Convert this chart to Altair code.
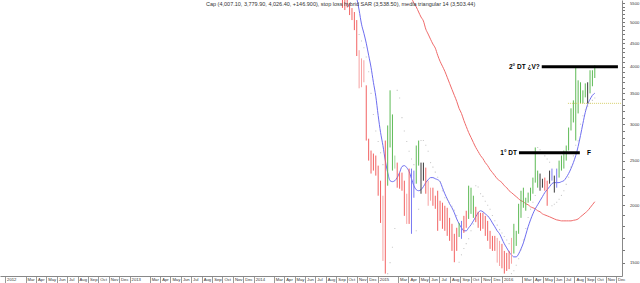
import altair as alt
import pandas as pd

# ---- data (weekly bars) ----
first_week = "2014-09-19"
highs = [5730, 5670, 5590, 5500, 5365, 5260, 5052, 4345, 4170, 4132,
         3644, 2790, 2629, 2590, 2564, 2438, 2261, 2097, 2764, 2981,
         3554, 3150, 2564, 2475, 2354, 2354, 2261, 2118, 2402, 2402,
         2378, 2696, 2764, 2475, 2475, 2414, 2261, 2183, 2183, 2097,
         2150, 2045, 2025, 1994, 1974, 1877, 1822, 1733, 1786, 1830,
         1849, 1896, 1945, 2205, 2183, 2097, 1984, 1935, 1925, 1925,
         1896, 1849, 1759, 1715, 1715, 1698, 1673, 1648, 1591, 1575,
         1591, 1698, 1822, 1759, 2014, 2150, 2183, 2076, 2130, 2183,
         2296, 2670, 2378, 2343, 2283, 2296, 2261, 2378, 2402, 2319,
         2402, 2500, 2564, 2629, 2696, 2950, 3248, 3380, 3990, 3737,
         3700, 3554, 3680, 3700, 3930, 3930, 4026]
lows = [5370, 5312, 5380, 5180, 5052, 4804, 4220, 3590, 3610, 3700,
        2764, 2500, 2343, 2378, 2319, 2097, 1830, 1513, 1420, 2205,
        2670, 2378, 2402, 2183, 2172, 2150, 1896, 1821, 1821, 1733,
        2076, 2227, 2438, 2118, 2261, 2118, 1994, 2045, 1994, 1964,
        1759, 1849, 1777, 1759, 1715, 1673, 1591, 1503, 1591, 1706,
        1690, 1741, 1786, 1867, 1915, 1877, 1837, 1786, 1759, 1777,
        1715, 1673, 1607, 1591, 1591, 1500, 1475, 1458, 1420, 1439,
        1452, 1492, 1570, 1631, 1733, 1877, 1974, 1945, 2025, 2045,
        2118, 2239, 2183, 2150, 2183, 2150, 1994, 2227, 2261, 2130,
        2183, 2296, 2378, 2402, 2500, 2629, 2907, 3026, 2764, 3166,
        3330, 3330, 3431, 3330, 3500, 3627, 3780]
kinds = ["r", "r", "r", "r", "r", "r", "r", "p", "p", "p",
         "r", "r", "r", "r", "r", "r", "r", "p", "r", "g",
         "g", "g", "lg", "r", "r", "r", "r", "p", "r", "b",
         "b", "g", "g", "k", "k", "r", "p", "p", "r", "r",
         "r", "r", "r", "r", "r", "r", "r", "r", "r", "g",
         "b", "r", "r", "g", "g", "g", "r", "r", "r", "r",
         "r", "r", "r", "r", "r", "p", "p", "r", "r", "r",
         "r", "p", "g", "g", "g", "g", "g", "g", "g", "g",
         "g", "g", "g", "k", "k", "r", "r", "k", "b", "k",
         "b", "g", "g", "g", "g", "g", "g", "g", "g", "g",
         "g", "g", "g", "k", "g", "g", "g"]
tma14 = [7600, 7300, 7000, 6700, 6400, 6100, 5650, 5312, 4950, 4730,
         4500, 4237, 3990, 3700, 3450, 3134, 2880, 2696, 2500, 2355,
         2261, 2250, 2261, 2296, 2354, 2426, 2438, 2414, 2366, 2283,
         2205, 2161, 2150, 2161, 2194, 2239, 2272, 2296, 2296, 2283,
         2272, 2250, 2183, 2118, 2065, 2014, 1974, 1925, 1867, 1822,
         1786, 1759, 1759, 1786, 1813, 1849, 1887, 1925, 1945, 1935,
         1915, 1896, 1867, 1830, 1795, 1759, 1733, 1690, 1648, 1615,
         1583, 1559, 1544, 1544, 1567, 1607, 1656, 1724, 1795, 1858,
         1915, 1964, 2004, 2045, 2087, 2130, 2161, 2194, 2228, 2239,
         2239, 2239, 2250, 2261, 2296, 2343, 2402, 2475, 2564, 2683,
         2835, 3010, 3182, 3313, 3397, 3466, 3503.44]
long_ma = [9750, 9600, 9450, 9300, 9150, 9000, 8850, 8700, 8550, 8400,
           8250, 8100, 7950, 7800, 7650, 7500, 7350, 7200, 7060, 6920,
           6780, 6650, 6520, 6390, 6260, 6130, 6000, 5880, 5760, 5640,
           5500, 5395, 5260, 5130, 5030, 4830, 4710, 4590, 4480, 4390,
           4237, 4110, 4010, 3910, 3795, 3680, 3570, 3466, 3363, 3246,
           3166, 3057, 2966, 2878, 2807, 2737, 2670, 2617, 2564, 2525,
           2475, 2438, 2390, 2355, 2319, 2283, 2261, 2239, 2205, 2183,
           2150, 2130, 2108, 2087, 2065, 2045, 2035, 2014, 2004, 1984,
           1974, 1964, 1945, 1935, 1915, 1905, 1896, 1887, 1877, 1867,
           1858, 1854, 1849, 1849, 1849, 1849, 1849, 1854, 1858, 1867,
           1887, 1905, 1925, 1945, 1974, 2004, 2035]
sar = [None, None, None, None, None, None, None, 4700, 4550, 4400,
       4200, 3900, 3500, 3150, 2900, 2750, 2600, 2450, None, 1420,
       1500, 1620, 1780, 3554, 3420, 3100, 2900, 2750, 2620, 2520,
       2450, 1760, 1960, 2764, 2764, 2700, 2620, 2475, 2420, 2360,
       2300, 2250, 2150, 2076, 2060, 2030, 1990, 1950, 1900, 1503,
       1560, 1610, 1650, 1690, 1760, 1820, 2205, 2190, 2118, 2090,
       2040, 2000, 1960, 1900, 1850, 1810, 1770, 1740, 1710, 1680,
       1650, 1420, 1440, 1480, 1530, 1600, 1680, 1780, 1880, 1960,
       2030, 2100, 2670, 2640, 2600, 2560, 2520, 2480, 1994, 2010,
       2030, 2060, 2100, 2150, 2220, 2300, 2420, 2560, 2700, 2760,
       3000, 3130, 3220, 3280, 3330, 3380, 3420]

kind_names = ["r", "p", "g", "lg", "k", "b"]
kind_colors = ["#f26262", "#f6a3a3", "#5dba55", "#a8dba0", "#3a3a3a", "#7a7af2"]

# annotations
dt_labels = ["2° DT ¿V?", "1° DT"]
dt_prices = [4000, 2600]
dt_start = ["2016-04-27", "2016-02-20"]
dt_end = ["2016-12-07", "2016-08-17"]
f_label = ["F"]
f_date = ["2016-09-07"]
f_price = [2600]
ref_price = [3330]
ref_start = ["2016-07-13"]
ref_end = ["2016-12-19"]

title_text = ("Cap (4,007.10, 3,779.90, 4,026.40, +146.900), stop loss hybrid SAR (3,538.50), "
              "media triangular 14 (3,503.44)")

y_labels = [1500, 2000, 2500, 3000, 3500, 4000, 4500, 5000, 5500]
y_minor = list(range(1500, 5600, 100))

# ---- build ----
dates = pd.date_range(first_week, periods=len(highs), freq="7D").strftime("%Y-%m-%d").tolist()
df = pd.DataFrame({"date": dates, "high": highs, "low": lows, "kind": kinds,
                   "tma": tma14, "ma": long_ma, "sar": sar})
sar_df = df.dropna(subset=["sar"])

x_dom = [alt.DateTime(year=2011, month=12, date=17, utc=True),
         alt.DateTime(year=2016, month=12, date=19, utc=True)]
month_vals = [alt.DateTime(year=y, month=m, date=1, utc=True)
              for y in range(2012, 2017) for m in range(1, 13) if m != 2]

xscale = alt.Scale(type="utc", domain=x_dom, nice=False)
yscale = alt.Scale(type="log", domain=[1403, 5586], nice=False, zero=False)

font = "Liberation Sans"

x_axis = alt.Axis(values=month_vals, orient="bottom", title=None, grid=False,
                  tickSize=7, tickColor="#999", domainColor="#888",
                  labelAlign="left", labelBaseline="top", labelPadding=-6, labelOffset=1.5,
                  labelFontSize=4.2, labelFont=font, labelColor="#333",
                  labelOverlap=False, labelFlush=False,
                  labelExpr="utcmonth(datum.value) == 0 ? utcFormat(datum.value, '%Y') : utcFormat(datum.value, '%b')")
y_axis = alt.Axis(values=y_minor, orient="right", title=None, grid=False,
                  tickSize=2.5, tickColor="#777", domainColor="#888",
                  labelPadding=5, labelFontSize=4.2, labelFont=font, labelColor="#333",
                  labelOverlap=False, labelFlush=False,
                  labelExpr="datum.value % 500 == 0 ? '' + datum.value : ''")


def X(field):
    return alt.X(field, scale=xscale, axis=x_axis)


def Y(field):
    return alt.Y(field, scale=yscale, axis=y_axis)


bars = alt.Chart(df).mark_rule(strokeWidth=1, clip=True).encode(
    x=X("date:T"), y=Y("low:Q"), y2="high:Q",
    color=alt.Color("kind:N", scale=alt.Scale(domain=kind_names, range=kind_colors), legend=None),
)
red_line = alt.Chart(df).mark_line(color="#f06a6a", strokeWidth=1, clip=True, interpolate="monotone").encode(
    x=X("date:T"), y=Y("ma:Q"),
)
blue_line = alt.Chart(df).mark_line(color="#6e6ef0", strokeWidth=1, clip=True, interpolate="monotone").encode(
    x=X("date:T"), y=Y("tma:Q"),
)
sar_pts = alt.Chart(sar_df).mark_square(size=1.2, color="#b4b4b4", opacity=0.7, clip=True).encode(
    x=X("date:T"), y=Y("sar:Q"),
)

dt_df = pd.DataFrame({"label": dt_labels, "price": dt_prices, "start": dt_start, "end": dt_end})
dt_rules = alt.Chart(dt_df).mark_rule(strokeWidth=3, color="black").encode(
    x=X("start:T"), x2="end:T", y=Y("price:Q"),
)
dt_text = alt.Chart(dt_df).mark_text(align="right", baseline="middle", dx=-2, fontSize=6.5,
                                      fontWeight="bold", font=font, color="black").encode(
    x=X("start:T"), y=Y("price:Q"), text="label:N",
)
f_df = pd.DataFrame({"label": f_label, "date": f_date, "price": f_price})
f_text = alt.Chart(f_df).mark_text(align="left", baseline="middle", fontSize=6.5,
                                   fontWeight="bold", font=font, color="black").encode(
    x=X("date:T"), y=Y("price:Q"), text="label:N",
)
ref_df = pd.DataFrame({"price": ref_price, "start": ref_start, "end": ref_end})
ref_rule = alt.Chart(ref_df).mark_rule(strokeWidth=1, color="#d6cf6a", strokeDash=[1, 1]).encode(
    x=X("start:T"), x2="end:T", y=Y("price:Q"),
)
title_df = pd.DataFrame({"t": [title_text]})
title_mark = alt.Chart(title_df).mark_text(align="left", baseline="middle", fontSize=5.5,
                                           font=font, color="#333").encode(
    x=alt.value(206), y=alt.value(4), text="t:N",
)

chart = alt.layer(red_line, blue_line, bars, sar_pts, ref_rule, dt_rules, dt_text, f_text, title_mark).properties(
    width=622, height=276,
    padding={"left": 0, "top": 0, "right": 18, "bottom": 7},
    autosize=alt.AutoSizeParams(type="none"),
    background="white",
).configure_view(stroke=None)

chart.save("out.html", embed_options={"renderer": "svg", "actions": False})
